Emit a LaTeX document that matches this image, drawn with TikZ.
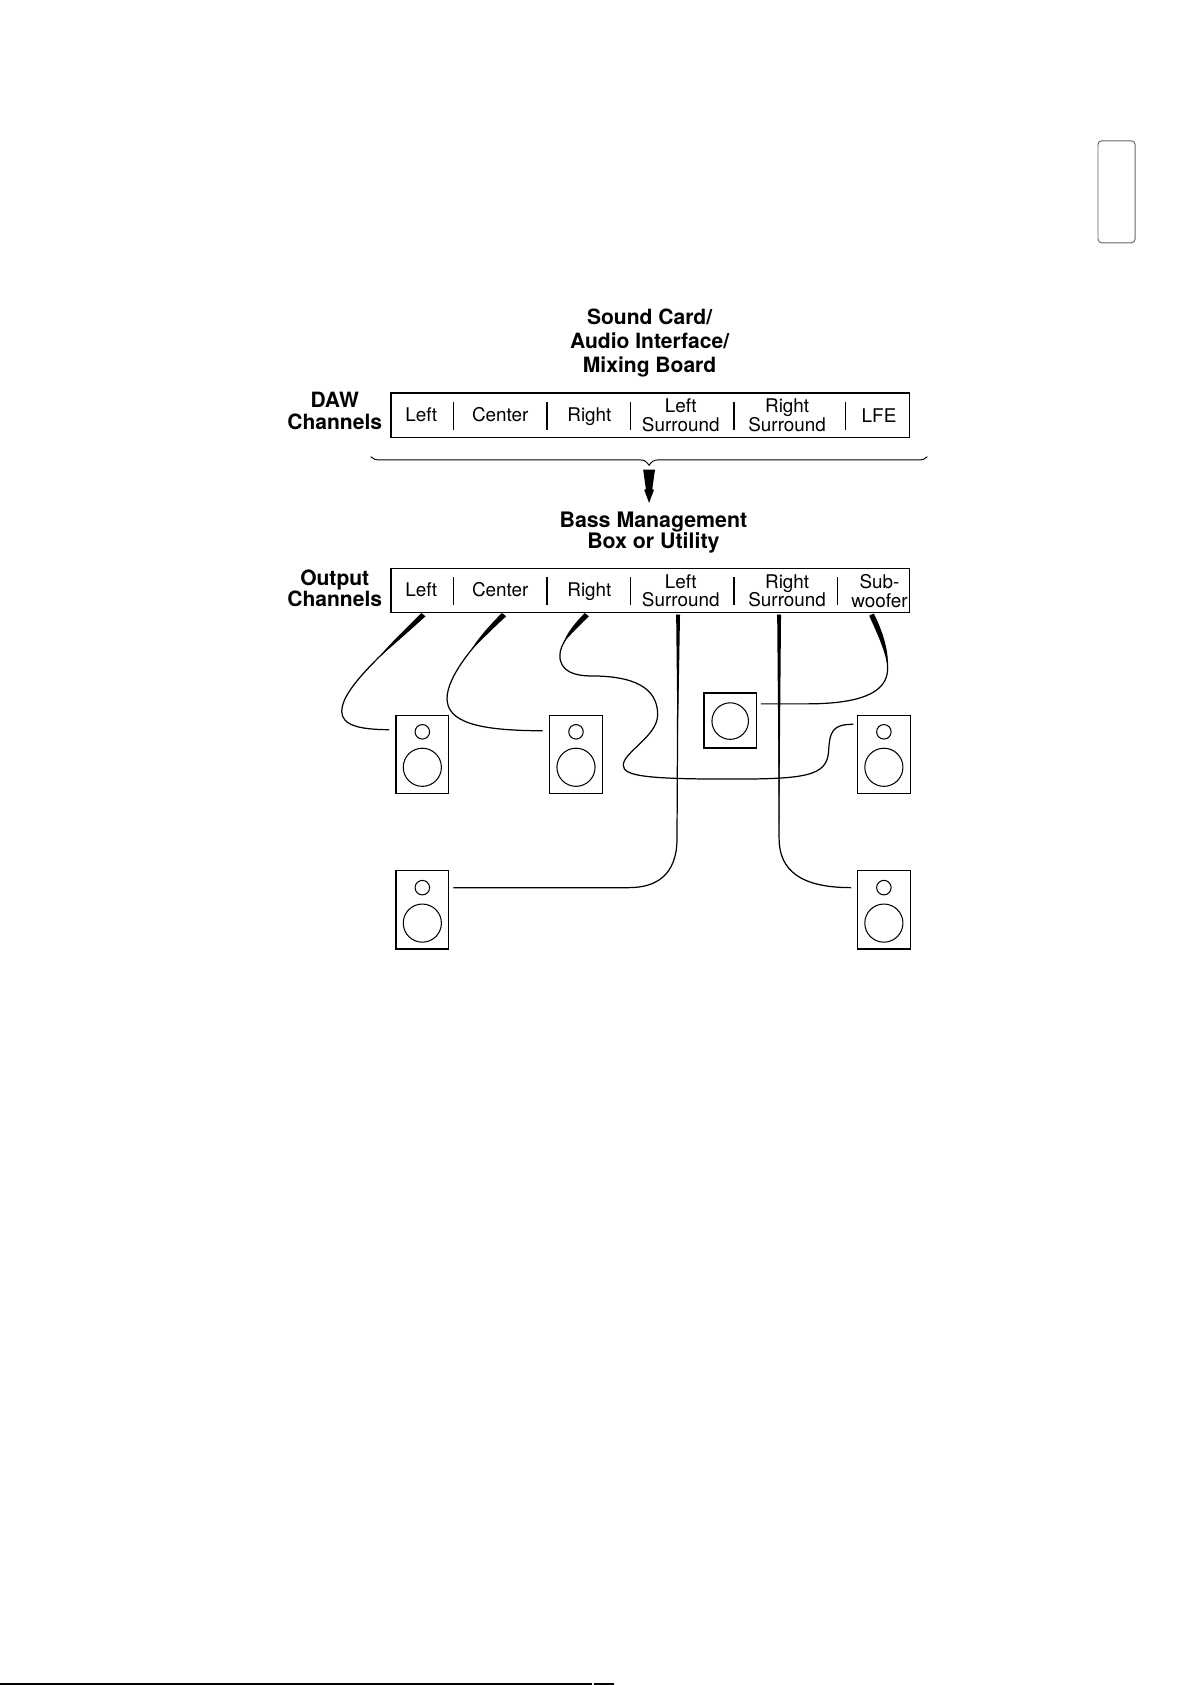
\documentclass[tikz,border=0pt]{standalone}
\usepackage{fontspec}
\setmainfont{TeX Gyre Heros}
\usetikzlibrary{arrows.meta,calc}
\definecolor{tabgray}{HTML}{666666}
\tikzset{
  chanbox/.style={draw,line width=0.9pt,minimum width=9.66cm,minimum height=0.82cm,inner sep=0},
  chanlabel/.style={inner sep=0,align=center,font=\fontsize{10}{9.7}\selectfont},
  headlabel/.style={inner sep=0,align=center,font=\fontsize{11.15}{12.8}\selectfont\bfseries},
  sidelabel/.style={inner sep=0,align=center,font=\fontsize{11.15}{11.4}\selectfont\bfseries},
  speakerbox/.style={draw,line width=0.7pt,minimum width=0.98cm,minimum height=1.46cm,inner sep=0},
  subbox/.style={draw,line width=0.7pt,minimum width=0.98cm,minimum height=1.02cm,inner sep=0},
  tweeter/.style={draw,circle,line width=0.55pt,minimum size=0.27cm,inner sep=0},
  woofer/.style={draw,circle,line width=0.55pt,minimum size=0.71cm,inner sep=0},
  wire/.style={line width=0.65pt},
}
\begin{document}
\begin{tikzpicture}[x=0.02cm,y=-0.02cm]
  \useasboundingbox (0,0) rectangle (1108,1568);
  % thumb tab and footer rule
  \node[draw=tabgray,line width=0.5pt,rounded corners=2pt,minimum width=0.69cm,minimum height=1.9cm,inner sep=0] (thumbtab) at (1039,178.5) {};
  \coordinate (rulea) at (0,1567);
  \coordinate (ruleb) at (551,1567);
  \coordinate (rulec) at (553,1567);
  \coordinate (ruled) at (571,1567);
  \draw[line width=1.1pt] (rulea) -- (ruleb) (rulec) -- (ruled);
  % headings
  \node[headlabel] (cardhead) at (604.5,319) {Sound Card/\\Audio Interface/\\Mixing Board};
  \node[headlabel,font=\fontsize{11.3}{11}\selectfont\bfseries] (basshead) at (608,495.5) {Bass Management\\Box or Utility};
  \node[sidelabel] (dawhead) at (311.5,382.5) {DAW\\Channels};
  \node[sidelabel] (outhead) at (311.5,547.5) {Output\\Channels};
  % channel strips
  \node[chanbox] (dawbox) at (605,386.5) {};
  \node[chanbox] (outbox) at (605,549.5) {};
  \foreach \x in {422,509,587,683,787} \draw[line width=0.6pt] (\x,374) -- (\x,400);
  \foreach \x in {422,509,587,683,779} \draw[line width=0.6pt] (\x,537) -- (\x,563);
  \foreach \n/\x/\t in {left/392/Left,center/465.5/Center,right/548.5/Right} {
    \node[chanlabel,anchor=base] (daw\n) at (\x,392) {\t};
    \node[chanlabel,anchor=base] (out\n) at (\x,555) {\t};
  }
  \foreach \n/\x/\t in {lsur/633.5/Left\\Surround,rsur/732.5/Right\\Surround} {
    \node[chanlabel] (daw\n) at (\x,386.5) {\t};
    \node[chanlabel] (out\n) at (\x,549.5) {\t};
  }
  \node[chanlabel] (dawlfe) at (818,387) {LFE};
  \node[chanlabel] (outsub) at (818.5,550) {Sub-\\woofer};
  % brace and arrow
  \draw[line width=0.5pt] (345,425) .. controls (347,427.5) and (350,428) .. (354,428) -- (596,428) .. controls (600,428) and (602,430) .. (604,433) .. controls (606,430) and (608,428) .. (612,428) -- (854,428) .. controls (858,428) and (861,427.5) .. (863,425);
  \fill (598.5,437) -- (609.5,437) -- (607,455) -- (608.5,456) -- (604,468) -- (599.5,456) -- (601,455) -- cycle;
  % speakers
  \foreach \n/\x/\y in {fl/393/702,fc/536/702,fr/822.5/702} {
    \node[speakerbox] (spk\n) at (\x,\y) {};
    \node[tweeter] (tw\n) at (\x,\y-21) {};
    \node[woofer] (wf\n) at (\x,\y+12) {};
  }
  \foreach \n/\x/\y in {rl/393/846.5,rr/822.5/846.5} {
    \node[speakerbox] (spk\n) at (\x,\y) {};
    \node[tweeter] (tw\n) at (\x,\y-20.5) {};
    \node[woofer] (wf\n) at (\x,\y+12.5) {};
  }
  \node[subbox] (spksub) at (679.5,670.5) {};
  \node[woofer,minimum size=0.68cm] (wfsub) at (679.5,671) {};
  % wire ends
  \coordinate (flout) at (394,572);
  \coordinate (fcout) at (469,572);
  \coordinate (frout) at (546,572);
  \coordinate (rlout) at (631,572);
  \coordinate (rrout) at (725,572);
  \coordinate (subout) at (811,572);
  \coordinate (flin) at (362,679);
  \coordinate (fcin) at (505,680);
  \coordinate (frin) at (794,674);
  \coordinate (rlin) at (422,826);
  \coordinate (rrin) at (792,826);
  \coordinate (subin) at (708,655);
  % wires
  \draw[wire] (flout) .. controls (360,605) and (318,640) .. (318,662) .. controls (318,675) and (335,679) .. (flin);
  \draw[wire] (fcout) .. controls (440,600) and (416,630) .. (416,650) .. controls (416,672) and (445,680) .. (fcin);
  \draw[wire] (frout) .. controls (530,588) and (521,600) .. (521,610) .. controls (521,625) and (535,629) .. (550,629) .. controls (590,629) and (612,640) .. (612,665) .. controls (612,685) and (580,700) .. (580,712) .. controls (580,722) and (600,725) .. (680,725) .. controls (750,725) and (769,722) .. (771,700) .. controls (772,680) and (775,674) .. (frin);
  \draw[wire] (rlout) -- (630,780) .. controls (630,815) and (610,826) .. (585,826) -- (rlin);
  \draw[wire] (rrout) -- (725,780) .. controls (725,810) and (745,826) .. (rrin);
  \draw[wire] (subout) .. controls (822,595) and (826,610) .. (826,622) .. controls (826,645) and (800,655) .. (750,655) -- (subin);
  % tapered starts of the wires
  \fill (392,570.5) .. controls (379,584) and (364,597.5) .. (352.6,611.6) .. controls (366.5,600) and (381.5,586.5) .. (396,573.5) -- cycle;
  \fill (467,570.5) .. controls (455.5,582) and (445,593.5) .. (437.8,605.8) .. controls (448,595.5) and (459,584.5) .. (471,573.5) -- cycle;
  \fill (544,570.5) .. controls (534.5,580.5) and (527.5,589) .. (525.1,596.9) .. controls (531,590.5) and (538.3,582.8) .. (548,573.5) -- cycle;
  \fill (629.2,572) -- (632.8,572) -- (630.6,700) -- cycle;
  \fill (723.2,572) -- (726.8,572) -- (725,780) -- cycle;
  \fill (808.8,573) .. controls (819.5,596) and (825,610.5) .. (826,622) .. controls (827,610) and (824.5,594) .. (813.2,571) -- cycle;
\end{tikzpicture}
\end{document}
